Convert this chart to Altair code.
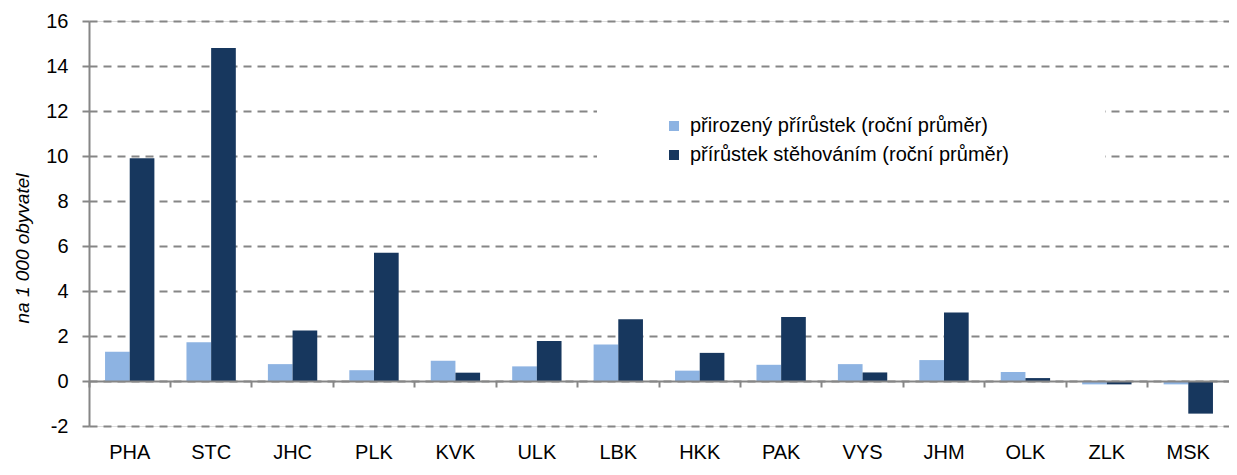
import altair as alt
import pandas as pd

regions = ["PHA", "STC", "JHC", "PLK", "KVK", "ULK", "LBK", "HKK", "PAK", "VYS", "JHM", "OLK", "ZLK", "MSK"]
natural = [1.3, 1.72, 0.75, 0.48, 0.9, 0.65, 1.62, 0.46, 0.72, 0.75, 0.93, 0.4, -0.15, -0.15]
migration = [9.9, 14.8, 2.25, 5.7, 0.37, 1.78, 2.75, 1.25, 2.85, 0.38, 3.05, 0.13, -0.15, -1.45]
series = ["přirozený přírůstek (roční průměr)", "přírůstek stěhováním (roční průměr)"]
colors = ["#8DB3E2", "#17375E"]
y_ticks = [-2, 0, 2, 4, 6, 8, 10, 12, 14, 16]

rows = []
for i, r in enumerate(regions):
    rows.append({"kraj": r, "serie": series[0], "hodnota": natural[i]})
    rows.append({"kraj": r, "serie": series[1], "hodnota": migration[i]})
df = pd.DataFrame(rows)

FONT = "Liberation Sans"
W, H = 1140, 405

bars = alt.Chart(df).mark_bar().encode(
    x=alt.X("kraj:N", sort=regions, title=None,
            scale=alt.Scale(paddingInner=0, paddingOuter=0),
            axis=alt.Axis(offset=-45, domainColor="#868686", domainWidth=2,
                          ticks=True, tickColor="#868686", tickWidth=2, tickSize=6,
                          bandPosition=0, labelAngle=0, labelFontSize=20,
                          labelFont=FONT, labelColor="#000000", labelPadding=55,
                          grid=False, zindex=1)),
    xOffset=alt.XOffset("serie:N", sort=series,
                        scale=alt.Scale(paddingInner=0, paddingOuter=0.65)),
    y=alt.Y("hodnota:Q", title="na 1 000 obyvatel",
            scale=alt.Scale(domain=[-2, 16], nice=False, zero=False),
            axis=alt.Axis(values=y_ticks, labelExpr="datum.value + ''",
                          domainColor="#868686",
                          domainWidth=2, tickColor="#868686", tickWidth=2, tickSize=7,
                          labelFontSize=20, labelFont=FONT, labelColor="#000000",
                          labelPadding=14,
                          grid=True, gridColor="#868686", gridWidth=2,
                          gridDash=[8, 6],
                          titleFont=FONT, titleFontSize=19, titleFontStyle="italic",
                          titleFontWeight="normal", titleColor="#000000",
                          titleAngle=-90, titleX=-67, titleY=227,
                          titleAlign="center", titleBaseline="middle", zindex=0)),
    color=alt.Color("serie:N", sort=series,
                    scale=alt.Scale(domain=series, range=colors),
                    legend=alt.Legend(title=None, orient="none", legendX=575, legendY=95,
                                      symbolType="square", symbolSize=100,
                                      symbolStrokeWidth=0, symbolOpacity=1,
                                      labelFont=FONT, labelFontSize=20,
                                      labelColor="#000000", labelOffset=6,
                                      rowPadding=9, padding=0, labelLimit=500)),
)

legend_bg = alt.Chart(pd.DataFrame({"a": [0]})).mark_rect(color="white").encode(
    x=alt.value(508), x2=alt.value(1016), y=alt.value(73), y2=alt.value(156)
)

chart = alt.layer(legend_bg, bars).properties(
    width=W, height=H,
    autosize=alt.AutoSizeParams(type="none"),
    padding={"left": 81, "top": 13, "right": 0, "bottom": 41},
).configure_view(stroke=None).configure(background="white")

chart.save("out.html", embed_options={"renderer": "svg", "actions": False})
